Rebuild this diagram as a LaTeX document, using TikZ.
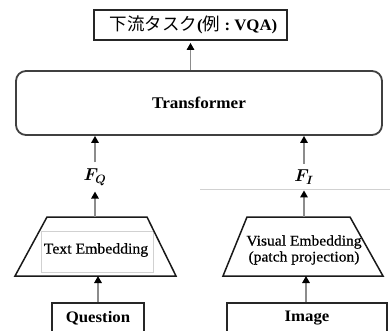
\documentclass[tikz,border=0pt]{standalone}
\usepackage{fontspec}
\setmainfont{Liberation Serif}[FakeStretch=1.05]
\newfontfamily\medserif{Liberation Serif}[FakeStretch=1.05,FakeBold=0.6]
\newfontfamily\cjk{Noto Sans CJK JP}
\usetikzlibrary{arrows.meta}
\begin{document}
\begin{tikzpicture}[x=1pt,y=-1pt,
  box/.style={draw=black!85,line width=1.8pt,inner sep=0pt},
  arr/.style={draw=black!45,line width=1.5pt,-{Triangle[length=7pt,width=7.5pt,color=black,fill=black]}},
  trap/.style={draw=black!90,line width=1.5pt,line join=miter},
  lbl/.style={font=\medserif\fontsize{15}{15.5}\selectfont,align=center,inner sep=0pt},
  blbl/.style={font=\fontsize{16}{16}\selectfont\bfseries,inner sep=0pt},
  flbl/.style={font=\fontsize{17}{17}\selectfont\boldmath,inner sep=0pt},
  faint/.style={draw=black!18,line width=0.6pt}
]
\useasboundingbox (0,0) rectangle (390,331);
\clip (0,0) rectangle (390,331);

% faint artefact lines
\draw[faint] (200,189) -- (390,189);
\draw[faint] (41,231) rectangle (153,272);

% top task box
\node[box,minimum width=193pt,minimum height=30pt] (task) at (190.5,25)
  {\hspace*{6pt}{\cjk\fontsize{17.5}{17.5}\selectfont 下流タスク}{\fontsize{16}{16}\selectfont\bfseries(}{\cjk\fontsize{17.5}{17.5}\selectfont 例}{\fontsize{16}{16}\selectfont\bfseries\ :\ VQA)}};

% transformer
\node[box,draw=black!75,rounded corners=10pt,minimum width=366pt,minimum height=64pt] (tr) at (199,103)
  {\fontsize{16.3}{17}\selectfont\bfseries Transformer};

% trapezoids
\draw[trap] (47,217) -- (147,217) -- (176,276) -- (15,276) -- cycle;
\draw[trap] (247,217) -- (350,217) -- (383,276) -- (223,276) -- cycle;
\coordinate (tlT) at (95,217);
\coordinate (tlB) at (98,276);
\coordinate (trT) at (304,217);
\coordinate (trB) at (306,276);
\node[lbl] (te) at (96,250) {Text Embedding};
\node[lbl,font=\medserif\fontsize{14.8}{16}\selectfont] (ve) at (304,250) {Visual Embedding\\(patch projection)};

% feature labels
\node[flbl] (fq) at (95,177) {$F_Q$};
\node[flbl] (fi) at (304,177) {$F_I$};

% input boxes
\node[box,minimum width=92pt,minimum height=30pt] (q) at (98,318) {};
\node[blbl] at (q) {Question};
\node[box,minimum width=160pt,minimum height=30pt] (img) at (307,318) {};
\node[blbl] at (img) {Image};

% arrows
\draw[arr,shorten >=2pt] (tr.north -| task) -- (task.south);
\draw[arr,shorten <=6pt] (fq.north) -- (fq.north |- tr.south);
\draw[arr,shorten <=6pt] (fi.north) -- (fi.north |- tr.south);
\draw[arr,shorten >=6pt] (tlT) -- (tlT |- fq.south);
\draw[arr,shorten >=6pt] (trT) -- (trT |- fi.south);
\draw[arr] (q.north) -- (q.north |- tlB);
\draw[arr] (img.north -| trB) -- (trB);
\end{tikzpicture}
\end{document}
